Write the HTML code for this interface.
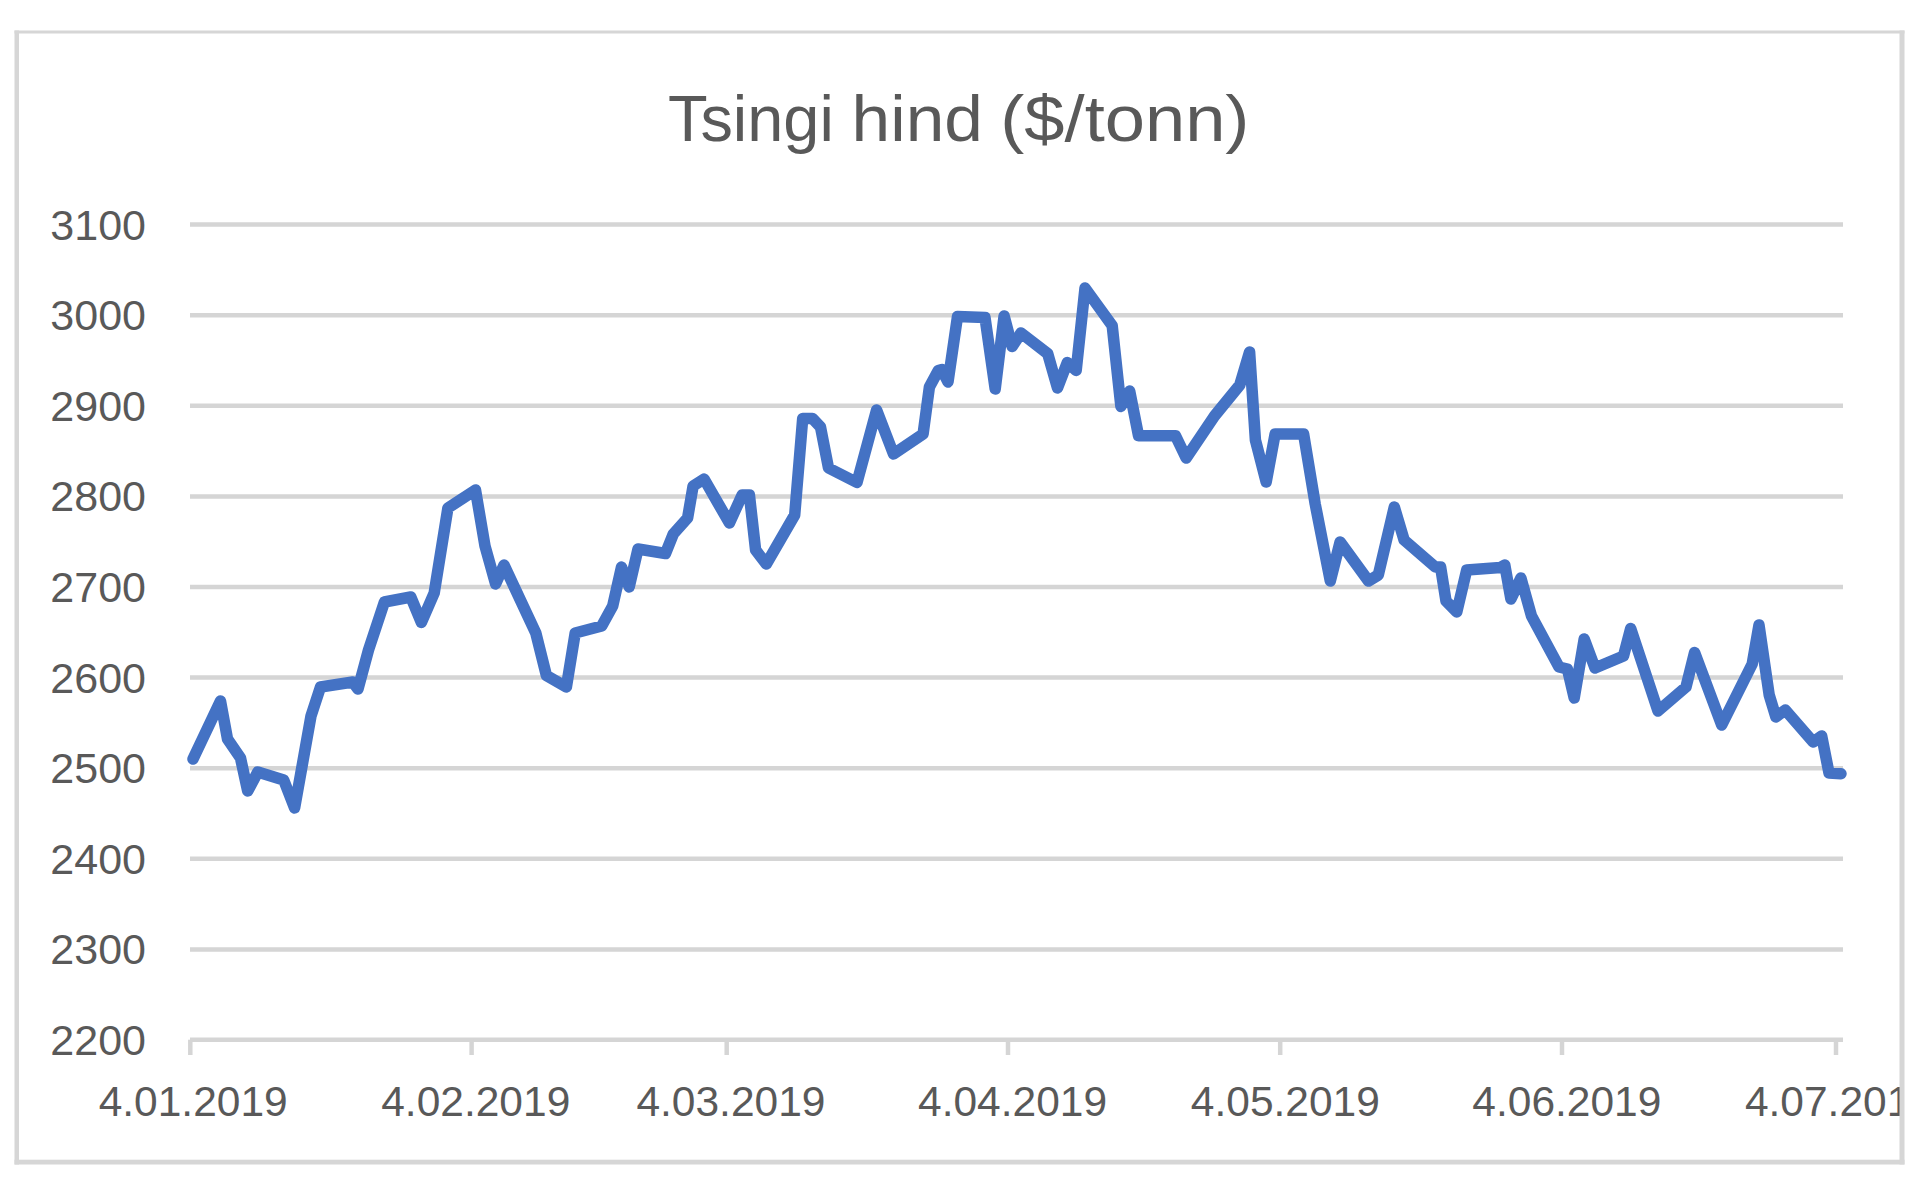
<!DOCTYPE html>
<html><head><meta charset="utf-8"><style>
html,body{margin:0;padding:0;background:#fff;width:1920px;height:1180px;overflow:hidden}
svg{display:block}
text{font-family:"Liberation Sans",sans-serif;fill:#595959}
</style></head><body>
<svg width="1920" height="1180" viewBox="0 0 1920 1180">
<rect x="0" y="0" width="1920" height="1180" fill="#ffffff"/>
<defs><clipPath id="c"><rect x="18" y="33" width="1882" height="1127"/></clipPath></defs>
<g clip-path="url(#c)">
<line x1="190" y1="224.6" x2="1843" y2="224.6" stroke="#d5d5d5" stroke-width="4.5"/><line x1="190" y1="315.2" x2="1843" y2="315.2" stroke="#d5d5d5" stroke-width="4.5"/><line x1="190" y1="405.8" x2="1843" y2="405.8" stroke="#d5d5d5" stroke-width="4.5"/><line x1="190" y1="496.4" x2="1843" y2="496.4" stroke="#d5d5d5" stroke-width="4.5"/><line x1="190" y1="587.0" x2="1843" y2="587.0" stroke="#d5d5d5" stroke-width="4.5"/><line x1="190" y1="677.6" x2="1843" y2="677.6" stroke="#d5d5d5" stroke-width="4.5"/><line x1="190" y1="768.2" x2="1843" y2="768.2" stroke="#d5d5d5" stroke-width="4.5"/><line x1="190" y1="858.8" x2="1843" y2="858.8" stroke="#d5d5d5" stroke-width="4.5"/><line x1="190" y1="949.4" x2="1843" y2="949.4" stroke="#d5d5d5" stroke-width="4.5"/>
<line x1="190" y1="1039.7" x2="1843" y2="1039.7" stroke="#d5d5d5" stroke-width="4.5"/>
<line x1="190.3" y1="1039.7" x2="190.3" y2="1055" stroke="#d5d5d5" stroke-width="4.5"/><line x1="471.6" y1="1039.7" x2="471.6" y2="1055" stroke="#d5d5d5" stroke-width="4.5"/><line x1="726.7" y1="1039.7" x2="726.7" y2="1055" stroke="#d5d5d5" stroke-width="4.5"/><line x1="1008" y1="1039.7" x2="1008" y2="1055" stroke="#d5d5d5" stroke-width="4.5"/><line x1="1280.2" y1="1039.7" x2="1280.2" y2="1055" stroke="#d5d5d5" stroke-width="4.5"/><line x1="1562" y1="1039.7" x2="1562" y2="1055" stroke="#d5d5d5" stroke-width="4.5"/><line x1="1836" y1="1039.7" x2="1836" y2="1055" stroke="#d5d5d5" stroke-width="4.5"/>
<g font-size="42"><text x="146" y="239.6" text-anchor="end" font-size="43">3100</text><text x="146" y="330.2" text-anchor="end" font-size="43">3000</text><text x="146" y="420.8" text-anchor="end" font-size="43">2900</text><text x="146" y="511.4" text-anchor="end" font-size="43">2800</text><text x="146" y="602.0" text-anchor="end" font-size="43">2700</text><text x="146" y="692.6" text-anchor="end" font-size="43">2600</text><text x="146" y="783.2" text-anchor="end" font-size="43">2500</text><text x="146" y="873.8" text-anchor="end" font-size="43">2400</text><text x="146" y="964.4" text-anchor="end" font-size="43">2300</text><text x="146" y="1055.0" text-anchor="end" font-size="43">2200</text><text x="193.20" y="1115.5" text-anchor="middle" font-size="42.5">4.01.2019</text><text x="475.75" y="1115.5" text-anchor="middle" font-size="42.5">4.02.2019</text><text x="730.95" y="1115.5" text-anchor="middle" font-size="42.5">4.03.2019</text><text x="1012.55" y="1115.5" text-anchor="middle" font-size="42.5">4.04.2019</text><text x="1285.35" y="1115.5" text-anchor="middle" font-size="42.5">4.05.2019</text><text x="1566.85" y="1115.5" text-anchor="middle" font-size="42.5">4.06.2019</text><text x="1839.45" y="1115.5" text-anchor="middle" font-size="42.5">4.07.2019</text></g>
<g font-size="64.5">
<text transform="translate(668.0 140.5) scale(1.0057 1)">Tsingi</text>
<text transform="translate(851.6 140.5) scale(1.0768 1)">hind</text>
<text transform="translate(1000.3 140.5) scale(1.1209 1)">($/tonn)</text>
</g>
<path d="M193,759 L220.5,701 L227.5,739 L240.5,758 L247.7,791 L257.8,772 L283.7,780 L294.6,808 L311,716 L320.5,687 L352.9,682 L358,689 L368.5,650 L384.4,602 L410.8,597 L421.4,622.5 L434.2,593 L447.9,508 L475.5,490 L485,546 L495.6,584 L504,565 L535.8,633 L546.4,675.5 L566.4,687 L575.2,633 L601.7,626 L612.7,606 L621.5,567 L629.2,587 L638,549 L665.5,553.5 L673.3,534 L687.6,518 L693.1,486 L704.1,479 L729.4,523 L742.2,495 L749.4,495 L755.6,550 L766.3,564 L794.7,515 L802.7,418.5 L812.5,418.5 L820.5,427 L828.5,468 L857,482.5 L876.6,410 L893.5,454 L923.1,434 L929.4,387 L938.3,370.5 L941.8,369.6 L948,382 L957.5,316.5 L985,317.5 L995.2,389 L1004.1,316 L1012.1,346.5 L1021,333 L1047.7,353.6 L1057.5,388 L1067.3,362.5 L1076.2,370.5 L1085,288 L1112.2,325.6 L1120.9,406.5 L1129.7,391 L1138.5,435.7 L1175.5,435.7 L1186.2,458 L1214.5,416 L1239.8,385 L1249.6,352 L1255.4,440 L1266.2,482 L1275.1,434 L1303.6,434 L1315.2,504 L1330.3,581 L1340.1,542 L1368.5,581 L1378.3,575 L1394.3,507 L1404.1,540 L1435.3,567 L1440.6,567 L1446,601 L1456.8,612 L1466.7,570 L1500.3,567.5 L1504.8,565 L1510.9,599 L1520.9,578 L1531.5,616 L1559,667 L1567.4,669 L1574.2,698 L1584.2,639 L1595,668 L1623.5,656 L1630.7,628.5 L1658,711 L1686,687 L1694.6,652.5 L1721.7,725 L1752.2,664 L1759,625 L1769.2,695 L1775.9,717 L1785.3,710 L1813.2,742 L1821.7,736 L1829,773 L1841,773.7" fill="none" stroke="#4472c4" stroke-width="11.5" stroke-linejoin="round" stroke-linecap="round"/>
</g>
<g fill="#d6d6d6">
<rect x="14.5" y="30.5" width="1890" height="3"/>
<rect x="14.5" y="30.5" width="4.5" height="1134"/>
<rect x="1899.5" y="30.5" width="5" height="1134"/>
<rect x="14.5" y="1159.7" width="1890" height="4.8"/>
</g>
</svg>
</body></html>
